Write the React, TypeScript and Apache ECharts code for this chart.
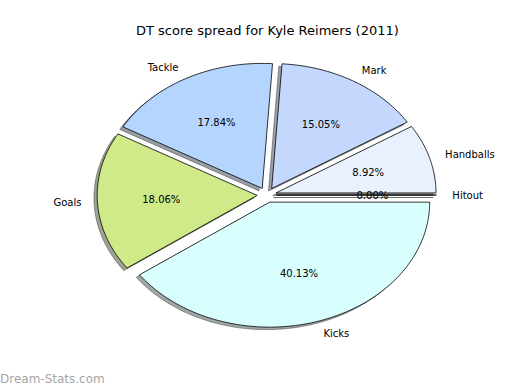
import React, { useEffect, useRef } from "react";
import * as echarts from "echarts";

const categories = ["Handballs", "Mark", "Tackle", "Goals", "Kicks", "Hitout"];
const percentages = [8.92, 15.05, 17.84, 18.06, 40.13, 0.0];
const sliceColors = ["#eaf1fe", "#c4d8fe", "#b4d6fe", "#d0ea8a", "#d8fefe", "#e6e6e6"];
const explode = [0.06, 0.06, 0.06, 0.06, 0.06, 0.06];
const titleText = "DT score spread for Kyle Reimers (2011)";
const watermark = "Dream-Stats.com";

const FONT = '"DejaVu Sans", Verdana, sans-serif';

function hexToRgb(h: string) {
  const n = parseInt(h.slice(1), 16);
  return [(n >> 16) & 255, (n >> 8) & 255, n & 255];
}

export default function App() {
  const ref = useRef<HTMLDivElement>(null);
  useEffect(() => {
    document.body.style.margin = "0";
    if (!ref.current) return;
    const chart = echarts.init(ref.current, null, { renderer: "svg" });
    const total = percentages.reduce((a, b) => a + b, 0);
    const starts: number[] = [];
    let acc = 0;
    percentages.forEach((v) => {
      starts.push(acc);
      acc += v;
    });

    const geom = (api: any, i: number, v: number) => {
      const W = api.getWidth();
      const H = api.getHeight();
      const cx = W * 0.513;
      const cy = H * 0.5;
      const rx = W * 0.3077;
      const ry = H * 0.3205;
      const a1 = (starts[i] / total) * 360;
      const a2 = ((starts[i] + v) / total) * 360;
      const mid = (((a1 + a2) / 2) * Math.PI) / 180;
      const ox = cx + explode[i] * rx * Math.cos(mid);
      const oy = cy - explode[i] * ry * Math.sin(mid);
      const pts: number[][] = [[ox, oy]];
      const steps = Math.max(2, Math.ceil(a2 - a1));
      for (let k = 0; k <= steps; k++) {
        const t = ((a1 + ((a2 - a1) * k) / steps) * Math.PI) / 180;
        pts.push([ox + rx * Math.cos(t), oy - ry * Math.sin(t)]);
      }
      return { pts, ox, oy, rx, ry, mid };
    };

    const seriesData = percentages.map((v, i) => ({ name: categories[i], value: [v, i] }));

    chart.setOption({
      animation: false,
      title: {
        text: titleText,
        left: 131,
        top: 19,
        textStyle: { fontSize: 13, fontWeight: "normal", fontFamily: FONT, color: "#000" },
      },
      graphic: [
        {
          type: "text",
          left: 0,
          top: 373,
          style: { text: watermark, fill: "#a6a6a6", fontSize: 12, fontFamily: FONT },
        },
      ],
      series: [
        {
          type: "custom",
          coordinateSystem: "none",
          silent: true,
          data: seriesData,
          renderItem: (params: any, api: any) => {
            const i = params.dataIndex;
            const v = api.value(0);
            const g = geom(api, i, v);
            const [r, gg, b] = hexToRgb(sliceColors[i]);
            const c = `rgba(${Math.round(r * 0.3)},${Math.round(gg * 0.3)},${Math.round(b * 0.3)},0.5)`;
            const pts = g.pts.map((p) => [p[0] - 0.02 * g.rx, p[1] + 0.02 * g.ry]);
            return {
              type: "polygon",
              shape: { points: pts },
              style: { fill: c, stroke: c, lineWidth: 1 },
            };
          },
        },
        {
          type: "custom",
          coordinateSystem: "none",
          silent: true,
          data: seriesData,
          renderItem: (params: any, api: any) => {
            const i = params.dataIndex;
            const v = api.value(0);
            const g = geom(api, i, v);
            const cosm = Math.cos(g.mid);
            const sinm = Math.sin(g.mid);
            return {
              type: "group",
              children: [
                {
                  type: "polygon",
                  shape: { points: g.pts },
                  style: { fill: sliceColors[i], stroke: "#000", lineWidth: 0.8 },
                },
                {
                  type: "text",
                  x: g.ox + 1.1 * g.rx * cosm,
                  y: g.oy - 1.1 * g.ry * sinm,
                  style: {
                    text: categories[i],
                    fill: "#000",
                    fontSize: 10,
                    fontFamily: FONT,
                    align: cosm >= 0 ? "left" : "right",
                    verticalAlign: "middle",
                  },
                },
                {
                  type: "text",
                  x: g.ox + 0.6 * g.rx * cosm,
                  y: g.oy - 0.6 * g.ry * sinm,
                  style: {
                    text: ((v / total) * 100).toFixed(2) + "%",
                    fill: "#000",
                    fontSize: 10,
                    fontFamily: FONT,
                    align: "center",
                    verticalAlign: "middle",
                  },
                },
              ],
            };
          },
        },
      ],
    });
    return () => chart.dispose();
  }, []);
  return <div ref={ref} style={{ width: 520, height: 390 }} />;
}
